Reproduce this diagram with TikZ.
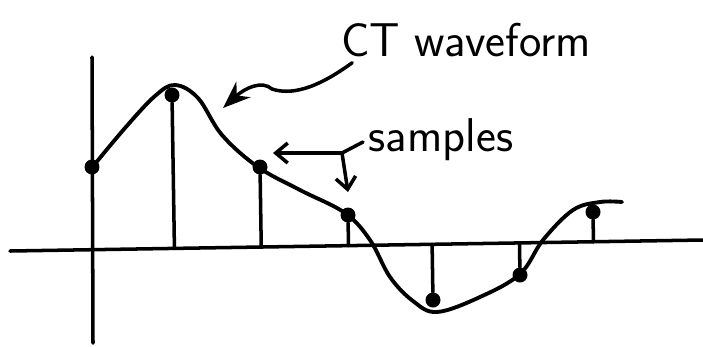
\documentclass[tikz,border=0pt]{standalone}
\usepackage{tikz}
\usetikzlibrary{calc,arrows.meta}

\begin{document}
\begin{tikzpicture}[x=0.02cm,y=-0.02cm,>=Stealth,
  pen/.style={line width=2pt,line cap=round,line join=round},
  dot/.style={circle,fill=black,inner sep=0pt,minimum size=0.3cm},
  label/.style={font=\sffamily\fontsize{27}{30}\selectfont,inner sep=2pt}]
\useasboundingbox (0,0) rectangle (703,346);
% axes
\coordinate (xl) at (10,251);
\coordinate (xr) at (703,240);
\coordinate (yt) at (92,57);
\coordinate (yb) at (93,343);
\draw[pen] (xl) -- (xr);
\draw[pen] (yt) -- (yb);
% CT waveform
\draw[pen,line width=2.2pt] plot[smooth,tension=0.6] coordinates {(90,170) (125,128) (155,96) (175,85) (198,98)
  (222,135) (258,167) (300,190) (345,213) (370,240) (390,277) (413,301) (437,312) (480,297)
  (520,274) (543,240) (573,210) (600,202) (622,202)};
% samples
\node[dot] (s0) at (92,167) {};
\node[dot] (s1) at (172,95) {};
\node[dot] (s2) at (260,167) {};
\node[dot] (s3) at (348,215) {};
\node[dot] (s4) at (433,300) {};
\node[dot] (s5) at (520,275) {};
\node[dot] (s6) at (593,212) {};
\foreach \i in {1,...,6}
  \draw[pen] (s\i) -- ($(xl)!(s\i)!(xr)$);
% labels
\node[label] (ct) at (466,40) {CT waveform};
\node[label] (sm) at (441,140) {samples};
\coordinate (ctip) at (223,108);
\coordinate (j) at (342,153);
\coordinate (stip) at (273,153);
\coordinate (dtip) at (348,192);
\draw[pen,->,>={Stealth[length=0.55cm,width=0.42cm]}] ($(ct.south west)+(15,2)$) .. controls (315,90) and (290,95) .. (272,89)
  .. controls (262,80) and (245,88) .. (ctip);
\draw[pen] ($(sm.west)+(-2,2)$) -- (j);
\draw[pen,-{Straight Barb[length=0.24cm,width=0.4cm]}] (j) -- (stip);
\draw[pen,-{Straight Barb[length=0.24cm,width=0.4cm]}] (j) -- (dtip);
\end{tikzpicture}
\end{document}
